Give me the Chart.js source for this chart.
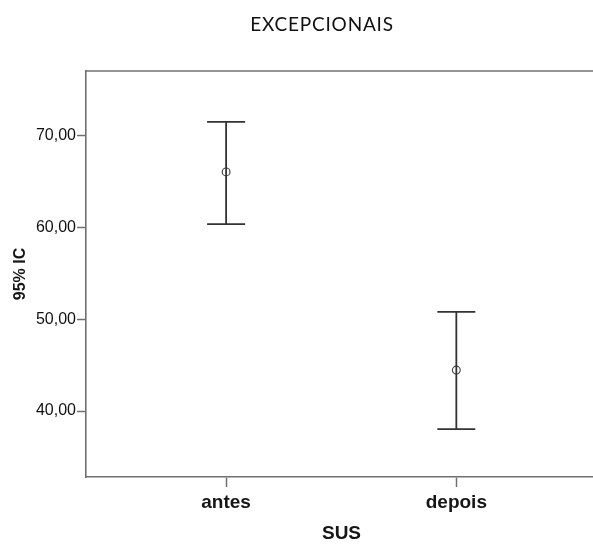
<!DOCTYPE html>
<html>
<head>
<meta charset="utf-8">
<script src="https://cdn.jsdelivr.net/npm/chart.js@4/dist/chart.umd.min.js"></script>
<style>
  html, body { margin: 0; padding: 0; background: #fff; overflow: hidden; }
  #wrap { position: relative; width: 602px; height: 544px; }
</style>
</head>
<body>
<div id="wrap"><canvas id="c"></canvas></div>
<script>
// ---- data ----
const titleText = 'EXCEPCIONAIS';
const categories = ['antes', 'depois'];
const means = [66.08, 44.47];
const lowerCI = [60.38, 38.04];
const upperCI = [71.53, 50.82];
const yTickValues = [40, 50, 60, 70];
const xAxisTitle = 'SUS';
const yAxisTitle = '95% IC';

const axisGray = '#707070';
const inkColor = '#333333';
const textColor = '#161616';

const errorBarPlugin = {
  id: 'errorBars',
  beforeDatasetsDraw(chart) {
    const {ctx, scales: {x, y}} = chart;
    ctx.save();
    ctx.strokeStyle = inkColor;
    ctx.lineWidth = 1.8;
    const cap = 19;
    categories.forEach((c, i) => {
      const px = x.getPixelForValue(i);
      const pLo = y.getPixelForValue(lowerCI[i]);
      const pHi = y.getPixelForValue(upperCI[i]);
      ctx.beginPath();
      ctx.moveTo(px, pLo); ctx.lineTo(px, pHi);
      ctx.moveTo(px - cap, pLo); ctx.lineTo(px + cap, pLo);
      ctx.moveTo(px - cap, pHi); ctx.lineTo(px + cap, pHi);
      ctx.stroke();
    });
    ctx.restore();
  }
};

// top frame line + chart title (title centred where the reference puts it)
const framePlugin = {
  id: 'frameAndTitle',
  afterDraw(chart) {
    const {ctx, chartArea} = chart;
    ctx.save();
    ctx.strokeStyle = axisGray;
    ctx.lineWidth = 1.6;
    ctx.beginPath();
    ctx.moveTo(chartArea.left - 0.8, chartArea.top);
    ctx.lineTo(chartArea.right, chartArea.top);
    ctx.stroke();

    ctx.fillStyle = '#111';
    ctx.font = 'normal 19px Lato';
    ctx.textAlign = 'center';
    ctx.textBaseline = 'middle';
    if ('letterSpacing' in ctx) ctx.letterSpacing = '0.8px';
    ctx.fillText(titleText, chartArea.left + 236, 25);
    ctx.restore();
  }
};

new Chart(document.getElementById('c'), {
  type: 'scatter',
  data: {
    datasets: [{
      data: means.map((m, i) => ({x: i, y: m})),
      pointStyle: 'circle',
      pointRadius: 3.9,
      pointHoverRadius: 3.9,
      borderWidth: 1.1,
      pointBorderColor: '#3a3a3a',
      pointBackgroundColor: 'rgba(255,255,255,0)'
    }]
  },
  plugins: [errorBarPlugin, framePlugin],
  options: {
    responsive: true,
    maintainAspectRatio: false,
    animation: false,
    devicePixelRatio: 1,
    layout: { padding: { left: 0, right: 0, top: 71, bottom: 0 } },
    plugins: {
      legend: { display: false },
      tooltip: { enabled: false },
      title: { display: false }
    },
    scales: {
      x: {
        type: 'linear',
        position: 'bottom',
        min: -0.6086,
        max: 1.611,
        afterBuildTicks: (s) => { s.ticks = categories.map((_, i) => ({value: i})); },
        afterFit: (s) => { s.height = 67; },
        ticks: {
          color: textColor,
          padding: 4,
          autoSkip: false,
          maxRotation: 0,
          font: { family: 'Liberation Sans', size: 19, weight: 'bold' },
          callback: (v) => categories[v]
        },
        grid: {
          drawOnChartArea: false,
          drawTicks: true,
          tickLength: 10,
          tickColor: axisGray,
          tickWidth: 1.5
        },
        border: { display: true, color: axisGray, width: 1.6 },
        title: {
          display: true,
          text: xAxisTitle,
          color: textColor,
          font: { family: 'Liberation Sans', size: 19, weight: 'bold', lineHeight: 1.2 },
          padding: { top: 0, bottom: -1 }
        }
      },
      y: {
        type: 'linear',
        position: 'left',
        min: 32.81,
        max: 77.08,
        afterBuildTicks: (s) => { s.ticks = yTickValues.map(v => ({value: v})); },
        afterFit: (s) => { s.width = 86; },
        ticks: {
          color: '#111',
          padding: 1,
          font: { family: 'Liberation Sans', size: 16, weight: 'normal' },
          callback: (v) => v.toFixed(2).replace('.', ',')
        },
        grid: {
          drawOnChartArea: false,
          drawTicks: true,
          tickLength: 9,
          tickColor: axisGray,
          tickWidth: 1.5
        },
        border: { display: true, color: axisGray, width: 1.6 },
        title: {
          display: true,
          text: yAxisTitle,
          color: textColor,
          font: { family: 'Liberation Sans', size: 16, weight: 'bold', lineHeight: 1.2 },
          padding: { top: 10.9, bottom: 0 }
        }
      }
    }
  }
});
</script>
</body>
</html>
